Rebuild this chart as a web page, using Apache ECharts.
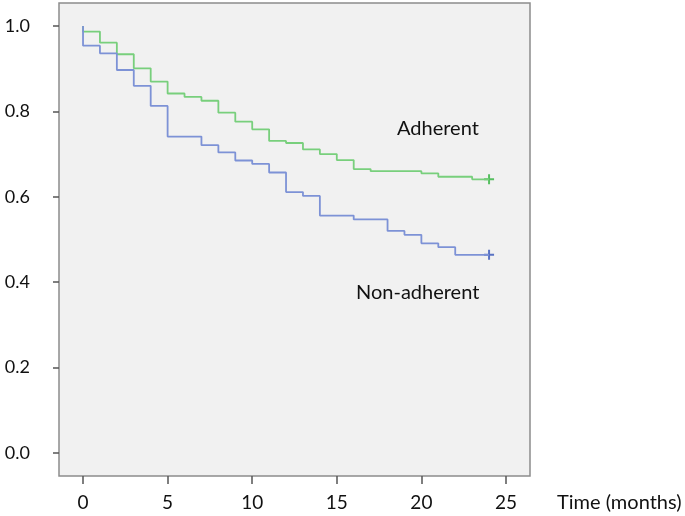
<!DOCTYPE html>
<html>
<head>
<meta charset="utf-8">
<script src="https://cdn.jsdelivr.net/npm/echarts@6/dist/echarts.min.js"></script>
<style>html,body{margin:0;padding:0;background:#fff;}#c{width:685px;height:516px;}</style>
</head>
<body>
<div id="c"></div>
<script>
// Kaplan-Meier steps: time of drop and survival after drop
var adherentTimes = [0, 0, 1, 2, 3, 4, 5, 6, 7, 8, 9, 10, 11, 12, 13, 14, 15, 16, 17, 20, 21, 23, 24];
var adherentSurv  = [1.0, 0.987, 0.961, 0.934, 0.901, 0.870, 0.842, 0.834, 0.825, 0.797, 0.776, 0.758, 0.731, 0.726, 0.711, 0.700, 0.686, 0.665, 0.660, 0.655, 0.647, 0.641, 0.641];
var nonAdherentTimes = [0, 0, 1, 2, 3, 4, 5, 7, 8, 9, 10, 11, 12, 13, 14, 16, 18, 19, 20, 21, 22, 24];
var nonAdherentSurv  = [1.0, 0.954, 0.936, 0.897, 0.860, 0.813, 0.741, 0.721, 0.704, 0.685, 0.677, 0.657, 0.611, 0.602, 0.556, 0.547, 0.520, 0.511, 0.491, 0.482, 0.464, 0.464];
var censorAdherent = [[24, 0.641]];
var censorNonAdherent = [[24, 0.464]];
var xTicks = [0, 5, 10, 15, 20, 25];
var yTicks = [0, 0.2, 0.4, 0.6, 0.8, 1.0];
var groupNames = ['Adherent', 'Non-adherent'];
var xTitle = 'Time (months)';

function pairs(a, b) { return a.map(function (t, i) { return [t, b[i]]; }); }

var font = 'Lato, "Open Sans", sans-serif';
var plus = 'path://M4,0H6V4H10V6H6V10H4V6H0V4H4Z';
var chart = echarts.init(document.getElementById('c'));
chart.setOption({
  animation: false,
  backgroundColor: '#ffffff',
  grid: { left: 59, right: 155, top: 3, bottom: 40, show: true, backgroundColor: '#f1f1f1', borderColor: '#8c8c8c', borderWidth: 1.5 },
  xAxis: {
    type: 'value', min: -1.42, max: 26.42,
    splitLine: { show: false },
    axisLine: { show: false, onZero: false },
    axisTick: { show: true, length: 8, customValues: xTicks, lineStyle: { color: '#555', width: 1.5 } },
    axisLabel: { customValues: xTicks, margin: 17, color: '#111', fontSize: 19, fontFamily: font }
  },
  yAxis: {
    type: 'value', min: -0.054, max: 1.054,
    splitLine: { show: false },
    axisLine: { show: false, onZero: false },
    axisTick: { show: true, length: 6, customValues: yTicks, lineStyle: { color: '#555', width: 1.5 } },
    axisLabel: { customValues: yTicks, margin: 29, color: '#111', fontSize: 18, fontFamily: font,
      formatter: function (v) { return v.toFixed(1); } }
  },
  graphic: [
    { type: 'text', left: 397, top: 119, style: { text: groupNames[0], fontSize: 20, fontFamily: font, fill: '#111' } },
    { type: 'text', left: 356, top: 283, style: { text: groupNames[1], fontSize: 20, fontFamily: font, fill: '#111' } },
    { type: 'text', left: 557, top: 493, style: { text: xTitle, fontSize: 20, fontFamily: font, fill: '#111' } }
  ],
  series: [
    { name: groupNames[0], type: 'line', step: 'end', data: pairs(adherentTimes, adherentSurv), showSymbol: false,
      lineStyle: { color: '#78cf7c', width: 1.8 } },
    { name: groupNames[1], type: 'line', step: 'end', data: pairs(nonAdherentTimes, nonAdherentSurv), showSymbol: false,
      lineStyle: { color: '#7d92d6', width: 1.8 } },
    { type: 'scatter', data: censorAdherent, symbol: plus, symbolSize: 10, itemStyle: { color: '#2fb33c' } },
    { type: 'scatter', data: censorNonAdherent, symbol: plus, symbolSize: 10, itemStyle: { color: '#3353b8' } }
  ]
});
</script>
</body>
</html>
